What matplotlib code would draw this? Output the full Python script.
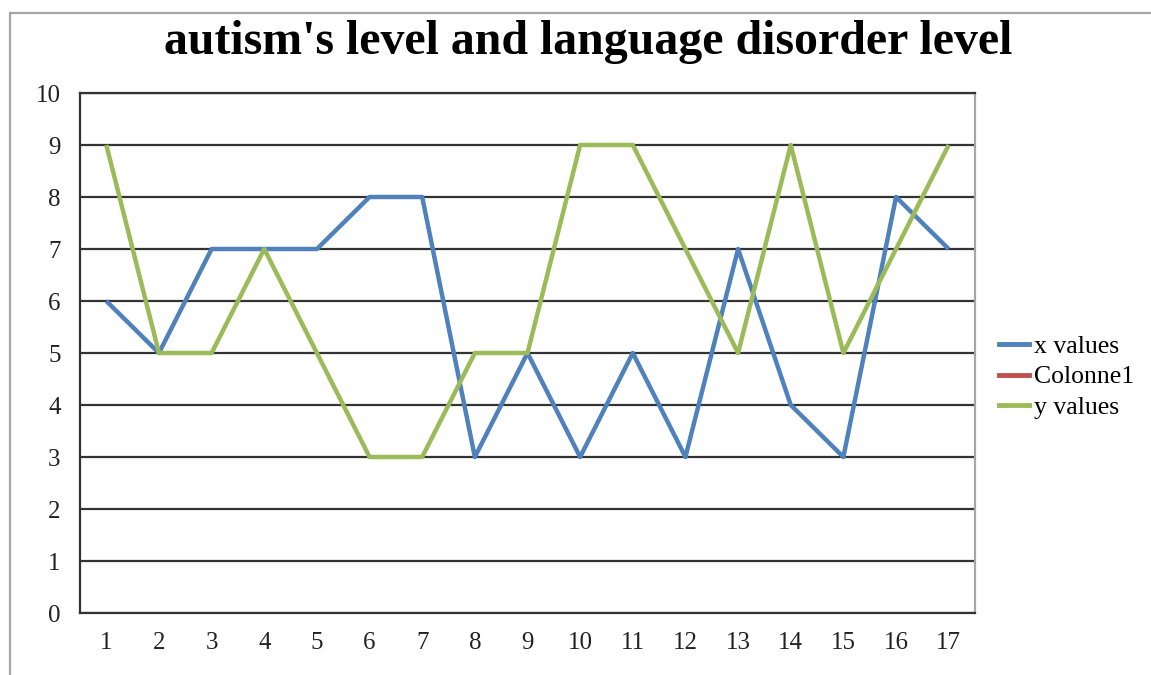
import matplotlib
matplotlib.use("Agg")
import matplotlib.pyplot as plt
from matplotlib.patches import Rectangle
from matplotlib.lines import Line2D

categories = list(range(1, 18))
x_values = [6, 5, 7, 7, 7, 8, 8, 3, 5, 3, 5, 3, 7, 4, 3, 8, 7]
colonne1 = []  # empty series, shown only in the legend
y_values = [9, 5, 5, 7, 5, 3, 3, 5, 5, 9, 9, 7, 5, 9, 5, 7, 9]
y_ticks = list(range(0, 11))

title = "autism's level and language disorder level"
series_names = ["x values", "Colonne1", "y values"]
colors = ["#4F81BD", "#C0504D", "#9BBB59"]

plt.rcParams["font.family"] = ["Liberation Serif", "DejaVu Serif"]

W, H = 1151, 675
fig = plt.figure(figsize=(W / 100, H / 100), dpi=100)
fig.patch.set_facecolor("white")

# chart frame (only left and top edges fall inside the image)
fig.patches.append(Rectangle((9.5 / W, -0.2), 1.2, 1.2 - 13 / H,
                             transform=fig.transFigure, fill=False,
                             edgecolor="#A6A6A6", linewidth=1.6, zorder=0))

left, right, top, bottom = 80, 975, 93, 613
ax = fig.add_axes([left / W, 1 - bottom / H, (right - left) / W, (bottom - top) / H])

ax.plot(categories, x_values, color=colors[0], linewidth=3.2,
        solid_joinstyle="round", solid_capstyle="butt", zorder=3)
ax.plot(categories, y_values, color=colors[2], linewidth=3.2,
        solid_joinstyle="round", solid_capstyle="butt", zorder=4)

ax.set_xlim(0.5, 17.5)
ax.set_ylim(0, 10)
ax.set_xticks(categories)
ax.set_yticks(y_ticks)
ax.tick_params(axis="both", length=0, labelsize=18, colors="#222222")
ax.tick_params(axis="x", pad=14)
ax.tick_params(axis="y", pad=14)

ax.yaxis.grid(True, color="#333333", linewidth=1.6)
ax.set_axisbelow(True)
for side in ["left", "bottom", "top"]:
    ax.spines[side].set_color("#333333")
    ax.spines[side].set_linewidth(1.6)
ax.spines["right"].set_color("#A6A6A6")
ax.spines["right"].set_linewidth(1.6)

fig.text(588 / W, 1 - 42 / H, title, ha="center", va="center",
         fontsize=34.5, fontweight="bold", color="black")

handles = [Line2D([], [], color=c, linewidth=3.5) for c in colors]
fig.legend(handles, series_names, loc="center left",
           bbox_to_anchor=(999 / W, 1 - 377 / H), frameon=False,
           fontsize=18.5, handlelength=1.15, handletextpad=0.2,
           labelspacing=0.28, borderaxespad=0, borderpad=0)

fig.savefig("out.png", dpi=100)
